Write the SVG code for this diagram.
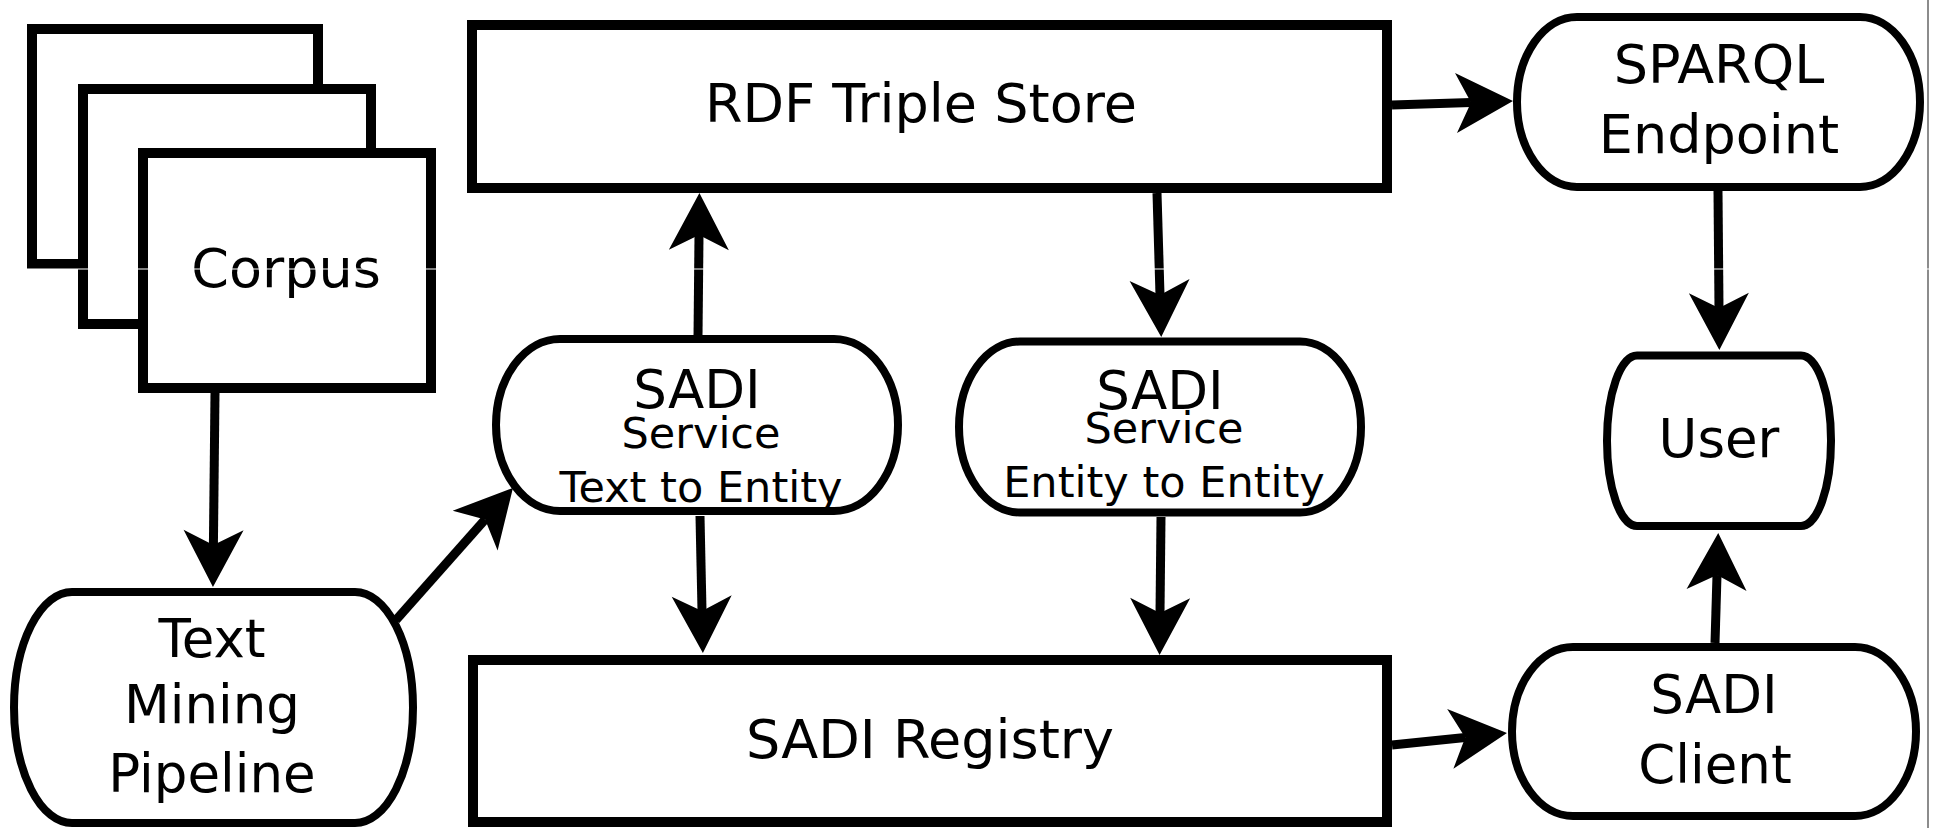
<svg xmlns="http://www.w3.org/2000/svg" width="1935" height="828" viewBox="0 0 1935 828">
  <style>
    .box { fill: #fff; stroke: #000; stroke-width: 10; }
    .pill { fill: #fff; stroke: #000; stroke-width: 8; }
    .lbl { font-family: "DejaVu Sans", "Liberation Sans", sans-serif; fill: #000; text-anchor: middle; }
    .big { font-size: 54px; }
    .small { font-size: 43px; }
    .edge { fill: none; stroke: #000; stroke-width: 9; marker-end: url(#head); }
  </style>
  <defs>
    <!-- concave arrowhead; the line ends at the notch, the tip sits 42 units ahead -->
    <marker id="head" markerUnits="userSpaceOnUse" viewBox="-20 -35 70 70" markerWidth="70" markerHeight="70" refX="0" refY="0" orient="auto" overflow="visible">
      <path d="M42,0 L-15,-30 L0,0 L-15,30 Z" fill="#000"/>
    </marker>
  </defs>

  <rect width="1935" height="828" fill="#fff"/>

  <!-- stacked documents -->
  <g id="corpus">
    <rect class="box" x="32" y="29" width="286" height="235"/>
    <rect class="box" x="83" y="89" width="288" height="235"/>
    <rect class="box" x="143" y="153" width="288" height="235"/>
    <text class="lbl big" x="286" y="287" font-size="53">Corpus</text>
  </g>

  <g id="rdf-store">
    <rect class="box" x="472" y="25" width="915" height="163"/>
    <text class="lbl big" x="921" y="122">RDF Triple Store</text>
  </g>

  <g id="sparql-endpoint">
    <rect class="pill" x="1517" y="17" width="403" height="170" rx="60" ry="85"/>
    <text class="lbl big" x="1719" y="83">SPARQL</text>
    <text class="lbl big" x="1719" y="153">Endpoint</text>
  </g>

  <g id="sadi-text-to-entity">
    <rect class="pill" x="496" y="339" width="402" height="172" rx="64" ry="86"/>
    <text class="lbl" x="697" y="408" font-size="53">SADI</text>
    <text class="lbl small" x="701" y="448">Service</text>
    <text class="lbl small" x="701" y="502">Text to Entity</text>
  </g>

  <g id="sadi-entity-to-entity">
    <rect class="pill" x="959" y="341.5" width="402" height="171" rx="61" ry="85.5"/>
    <text class="lbl" x="1160" y="409" font-size="53">SADI</text>
    <text class="lbl small" x="1164" y="443">Service</text>
    <text class="lbl small" x="1164" y="497">Entity to Entity</text>
  </g>

  <g id="user">
    <rect class="pill" x="1607" y="355.5" width="224" height="170.5" rx="30" ry="85"/>
    <text class="lbl" x="1719" y="457" font-size="53">User</text>
  </g>

  <g id="text-mining-pipeline">
    <rect class="pill" x="14" y="592" width="399" height="231" rx="58" ry="115.5"/>
    <text class="lbl" x="212" y="657" font-size="53">Text</text>
    <text class="lbl" x="212" y="723" font-size="53">Mining</text>
    <text class="lbl" x="212" y="792" font-size="53">Pipeline</text>
  </g>

  <g id="sadi-registry">
    <rect class="box" x="473" y="660" width="914" height="162"/>
    <text class="lbl big" x="930" y="758">SADI Registry</text>
  </g>

  <g id="sadi-client">
    <rect class="pill" x="1512" y="647" width="404" height="169" rx="61" ry="84.5"/>
    <text class="lbl" x="1714" y="713" font-size="53">SADI</text>
    <text class="lbl" x="1715" y="783" font-size="53">Client</text>
  </g>

  <g id="connectors">
    <path class="edge" d="M215,393 L213.4,545"/>
    <path class="edge" d="M396,620 L485.1,519.4"/>
    <path class="edge" d="M698,337 L699,235"/>
    <path class="edge" d="M700,516 L702,611"/>
    <path class="edge" d="M1157,193 L1160,295"/>
    <path class="edge" d="M1161,517 L1160,613"/>
    <path class="edge" d="M1392,105 L1471,102.4"/>
    <path class="edge" d="M1718,191 L1719,308"/>
    <path class="edge" d="M1392,745 L1465.2,737.4"/>
    <path class="edge" d="M1715,643 L1717,575"/>
  </g>

  <!-- page edge and scan seam -->
  <rect x="1927" y="0" width="2" height="828" fill="#8c8c8c"/>
  <rect x="0" y="268.5" width="1935" height="1" fill="#fff"/>
</svg>
